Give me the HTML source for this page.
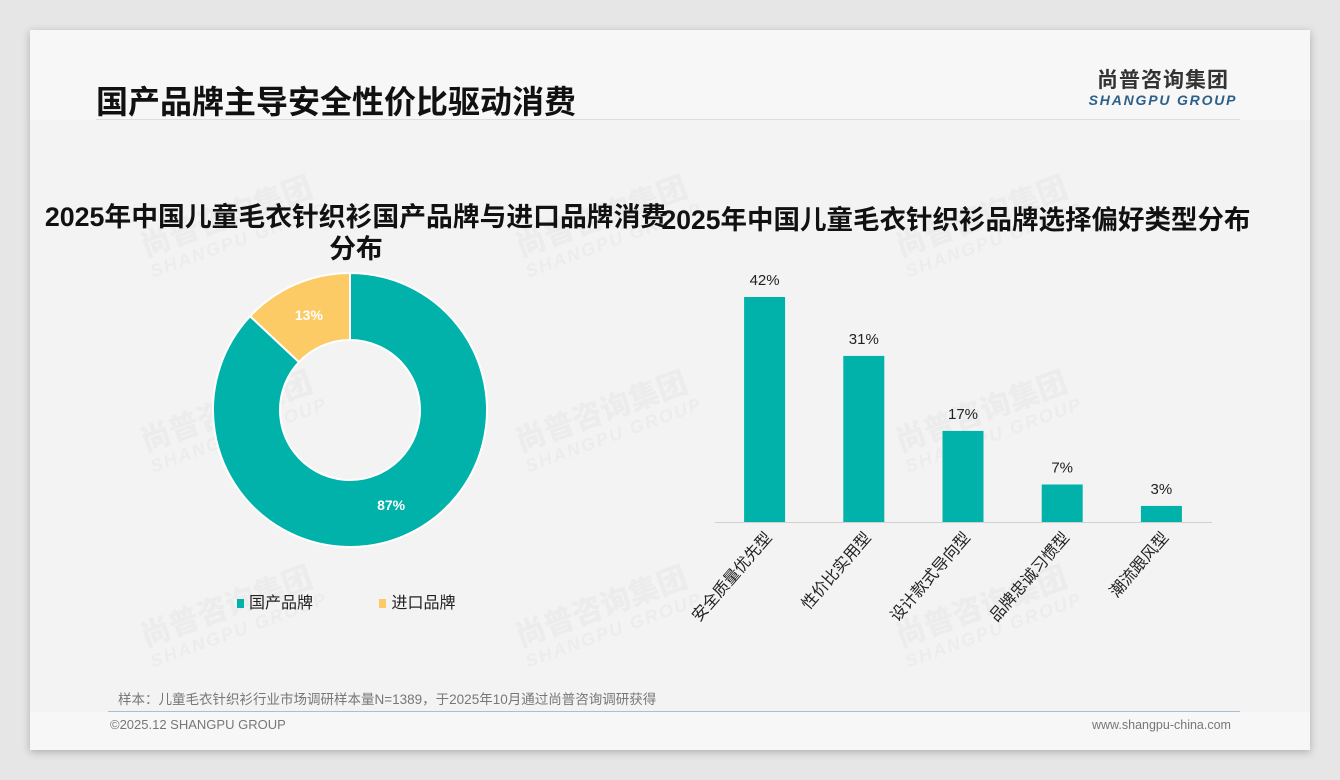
<!DOCTYPE html>
<html><head><meta charset="utf-8">
<style>
body{margin:0;width:1340px;height:780px;background:#e6e6e6;font-family:"Liberation Sans","Noto Sans CJK SC",sans-serif;overflow:hidden;position:relative}
#card{position:absolute;left:30px;top:30px;width:1280px;height:720px;background:#f7f7f7;box-shadow:0 2px 8px rgba(0,0,0,.25)}
#inner{position:absolute;left:30px;top:120px;width:1280px;height:592px;background:#f3f3f3}
.abs{position:absolute}
.wm{position:absolute;color:rgba(0,0,0,0.028);font-weight:bold;transform:rotate(-20deg);line-height:1.05;white-space:nowrap}
.wm b{font-size:30px;display:block}.wm i{font-size:18px;font-style:italic;letter-spacing:2px}
</style></head><body>
<div id="card"></div>
<div id="inner"></div>
<div class="abs" style="left:96px;top:77px;font-size:32px;font-weight:bold;color:#111">国产品牌主导安全性价比驱动消费</div>
<div class="abs" style="left:96px;top:119px;width:1144px;height:1px;background:#ddd"></div>
<div class="abs" style="left:1088px;top:64px;width:150px;text-align:center;color:#333">
<div style="font-size:21px;font-weight:bold;letter-spacing:1px">尚普咨询集团</div>
<div style="font-size:14px;font-style:italic;font-weight:bold;color:#2c5f8a;letter-spacing:1.8px;margin-top:-2px">SHANGPU GROUP</div></div>

<div class="wm" style="left:140px;top:200px"><b>尚普咨询集团</b><i>SHANGPU GROUP</i></div>
<div class="wm" style="left:515px;top:200px"><b>尚普咨询集团</b><i>SHANGPU GROUP</i></div>
<div class="wm" style="left:895px;top:200px"><b>尚普咨询集团</b><i>SHANGPU GROUP</i></div>
<div class="wm" style="left:140px;top:395px"><b>尚普咨询集团</b><i>SHANGPU GROUP</i></div>
<div class="wm" style="left:515px;top:395px"><b>尚普咨询集团</b><i>SHANGPU GROUP</i></div>
<div class="wm" style="left:895px;top:395px"><b>尚普咨询集团</b><i>SHANGPU GROUP</i></div>
<div class="wm" style="left:140px;top:590px"><b>尚普咨询集团</b><i>SHANGPU GROUP</i></div>
<div class="wm" style="left:515px;top:590px"><b>尚普咨询集团</b><i>SHANGPU GROUP</i></div>
<div class="wm" style="left:895px;top:590px"><b>尚普咨询集团</b><i>SHANGPU GROUP</i></div>

<div class="abs" style="left:26px;top:201px;width:660px;text-align:center;font-size:26.8px;font-weight:bold;color:#111;line-height:32px;white-space:nowrap">2025年中国儿童毛衣针织衫国产品牌与进口品牌消费<br>分布</div>
<div class="abs" style="left:656px;top:198px;width:600px;text-align:center;font-size:26.5px;font-weight:bold;color:#111;white-space:nowrap">2025年中国儿童毛衣针织衫品牌选择偏好类型分布</div>

<svg class="abs" style="left:0;top:0" width="1340" height="780">
<g id="donut"></g><g id="bars"></g>
</svg>

<div class="abs" style="left:237px;top:589px;font-size:16px;color:#222">
<span><span style="display:inline-block;width:7px;height:9px;background:#00b2a9;margin-right:5px"></span>国产品牌</span>
<span style="margin-left:62px"><span style="display:inline-block;width:7px;height:9px;background:#fdcb65;margin-right:5px"></span>进口品牌</span></div>

<div class="abs" style="left:118px;top:688px;font-size:13.5px;color:#777">样本：儿童毛衣针织衫行业市场调研样本量N=1389，于2025年10月通过尚普咨询调研获得</div>
<div class="abs" style="left:108px;top:711px;width:1132px;height:1px;background:#a9bfd3"></div>
<div class="abs" style="left:110px;top:717px;font-size:13px;color:#777">©2025.12 SHANGPU GROUP</div>
<div class="abs" style="left:1092px;top:718px;font-size:12.5px;color:#777">www.shangpu-china.com</div>

<script>
const pieLabels=["国产品牌","进口品牌"];
const pieValues=[87,13];
const pieColors=["#00b2a9","#fdcb65"];
const barCats=["安全质量优先型","性价比实用型","设计款式导向型","品牌忠诚习惯型","潮流跟风型"];
const barValues=[42,31,17,7,3];

const NS="http://www.w3.org/2000/svg";
function mk(t,a,p){const e=document.createElementNS(NS,t);for(const k in a)e.setAttribute(k,a[k]);p.appendChild(e);return e;}
const cx=350,cy=410,R=137,r=70;
const dg=document.getElementById('donut');
const tot=pieValues.reduce((a,b)=>a+b,0);
let ang=0;
pieValues.forEach((v,i)=>{
  const a0=ang/tot*2*Math.PI, a1=(ang+v)/tot*2*Math.PI; ang+=v;
  const pt=(rad,a)=>[cx+rad*Math.sin(a),cy-rad*Math.cos(a)];
  const [x0,y0]=pt(R,a0),[x1,y1]=pt(R,a1),[x2,y2]=pt(r,a1),[x3,y3]=pt(r,a0);
  const lg=(a1-a0)>Math.PI?1:0;
  const p=mk('path',{d:`M${x0},${y0}A${R},${R} 0 ${lg} 1 ${x1},${y1}L${x2},${y2}A${r},${r} 0 ${lg} 0 ${x3},${y3}Z`,fill:pieColors[i],stroke:'#fff','stroke-width':2},dg);
  
  
  const am=(a0+a1)/2,[lx,ly]=pt((R+r)/2,am);
  const t=mk('text',{x:lx,y:ly+5,'text-anchor':'middle','font-size':14,'font-weight':'bold',fill:'#fff'},dg);
  t.textContent=v+'%';
  
  
});
const bg=document.getElementById('bars');
const base=522,scale=225/42,x0=715,step=99.2,bw=41;
const ax=mk('line',{x1:x0,x2:1212,y1:base+0.5,y2:base+0.5,stroke:'#d0d0d0','stroke-width':1},bg);


barValues.forEach((v,i)=>{
  const c=x0+step*(i+0.5),h=v*scale;
  const b=mk('rect',{x:c-bw/2,y:base-h,width:bw,height:h,fill:'#00b2a9'},bg);
  
  
  const t=mk('text',{x:c,y:base-h-12,'text-anchor':'middle','font-size':15,fill:'#222'},bg);
  t.textContent=v+'%';
  
  
  const l=mk('text',{x:c+8,y:base+16,'text-anchor':'end','font-size':16,fill:'#222',transform:`rotate(-49 ${c+8} ${base+16})`},bg);
  l.textContent=barCats[i];
  
  
});
</script>
</body></html>
